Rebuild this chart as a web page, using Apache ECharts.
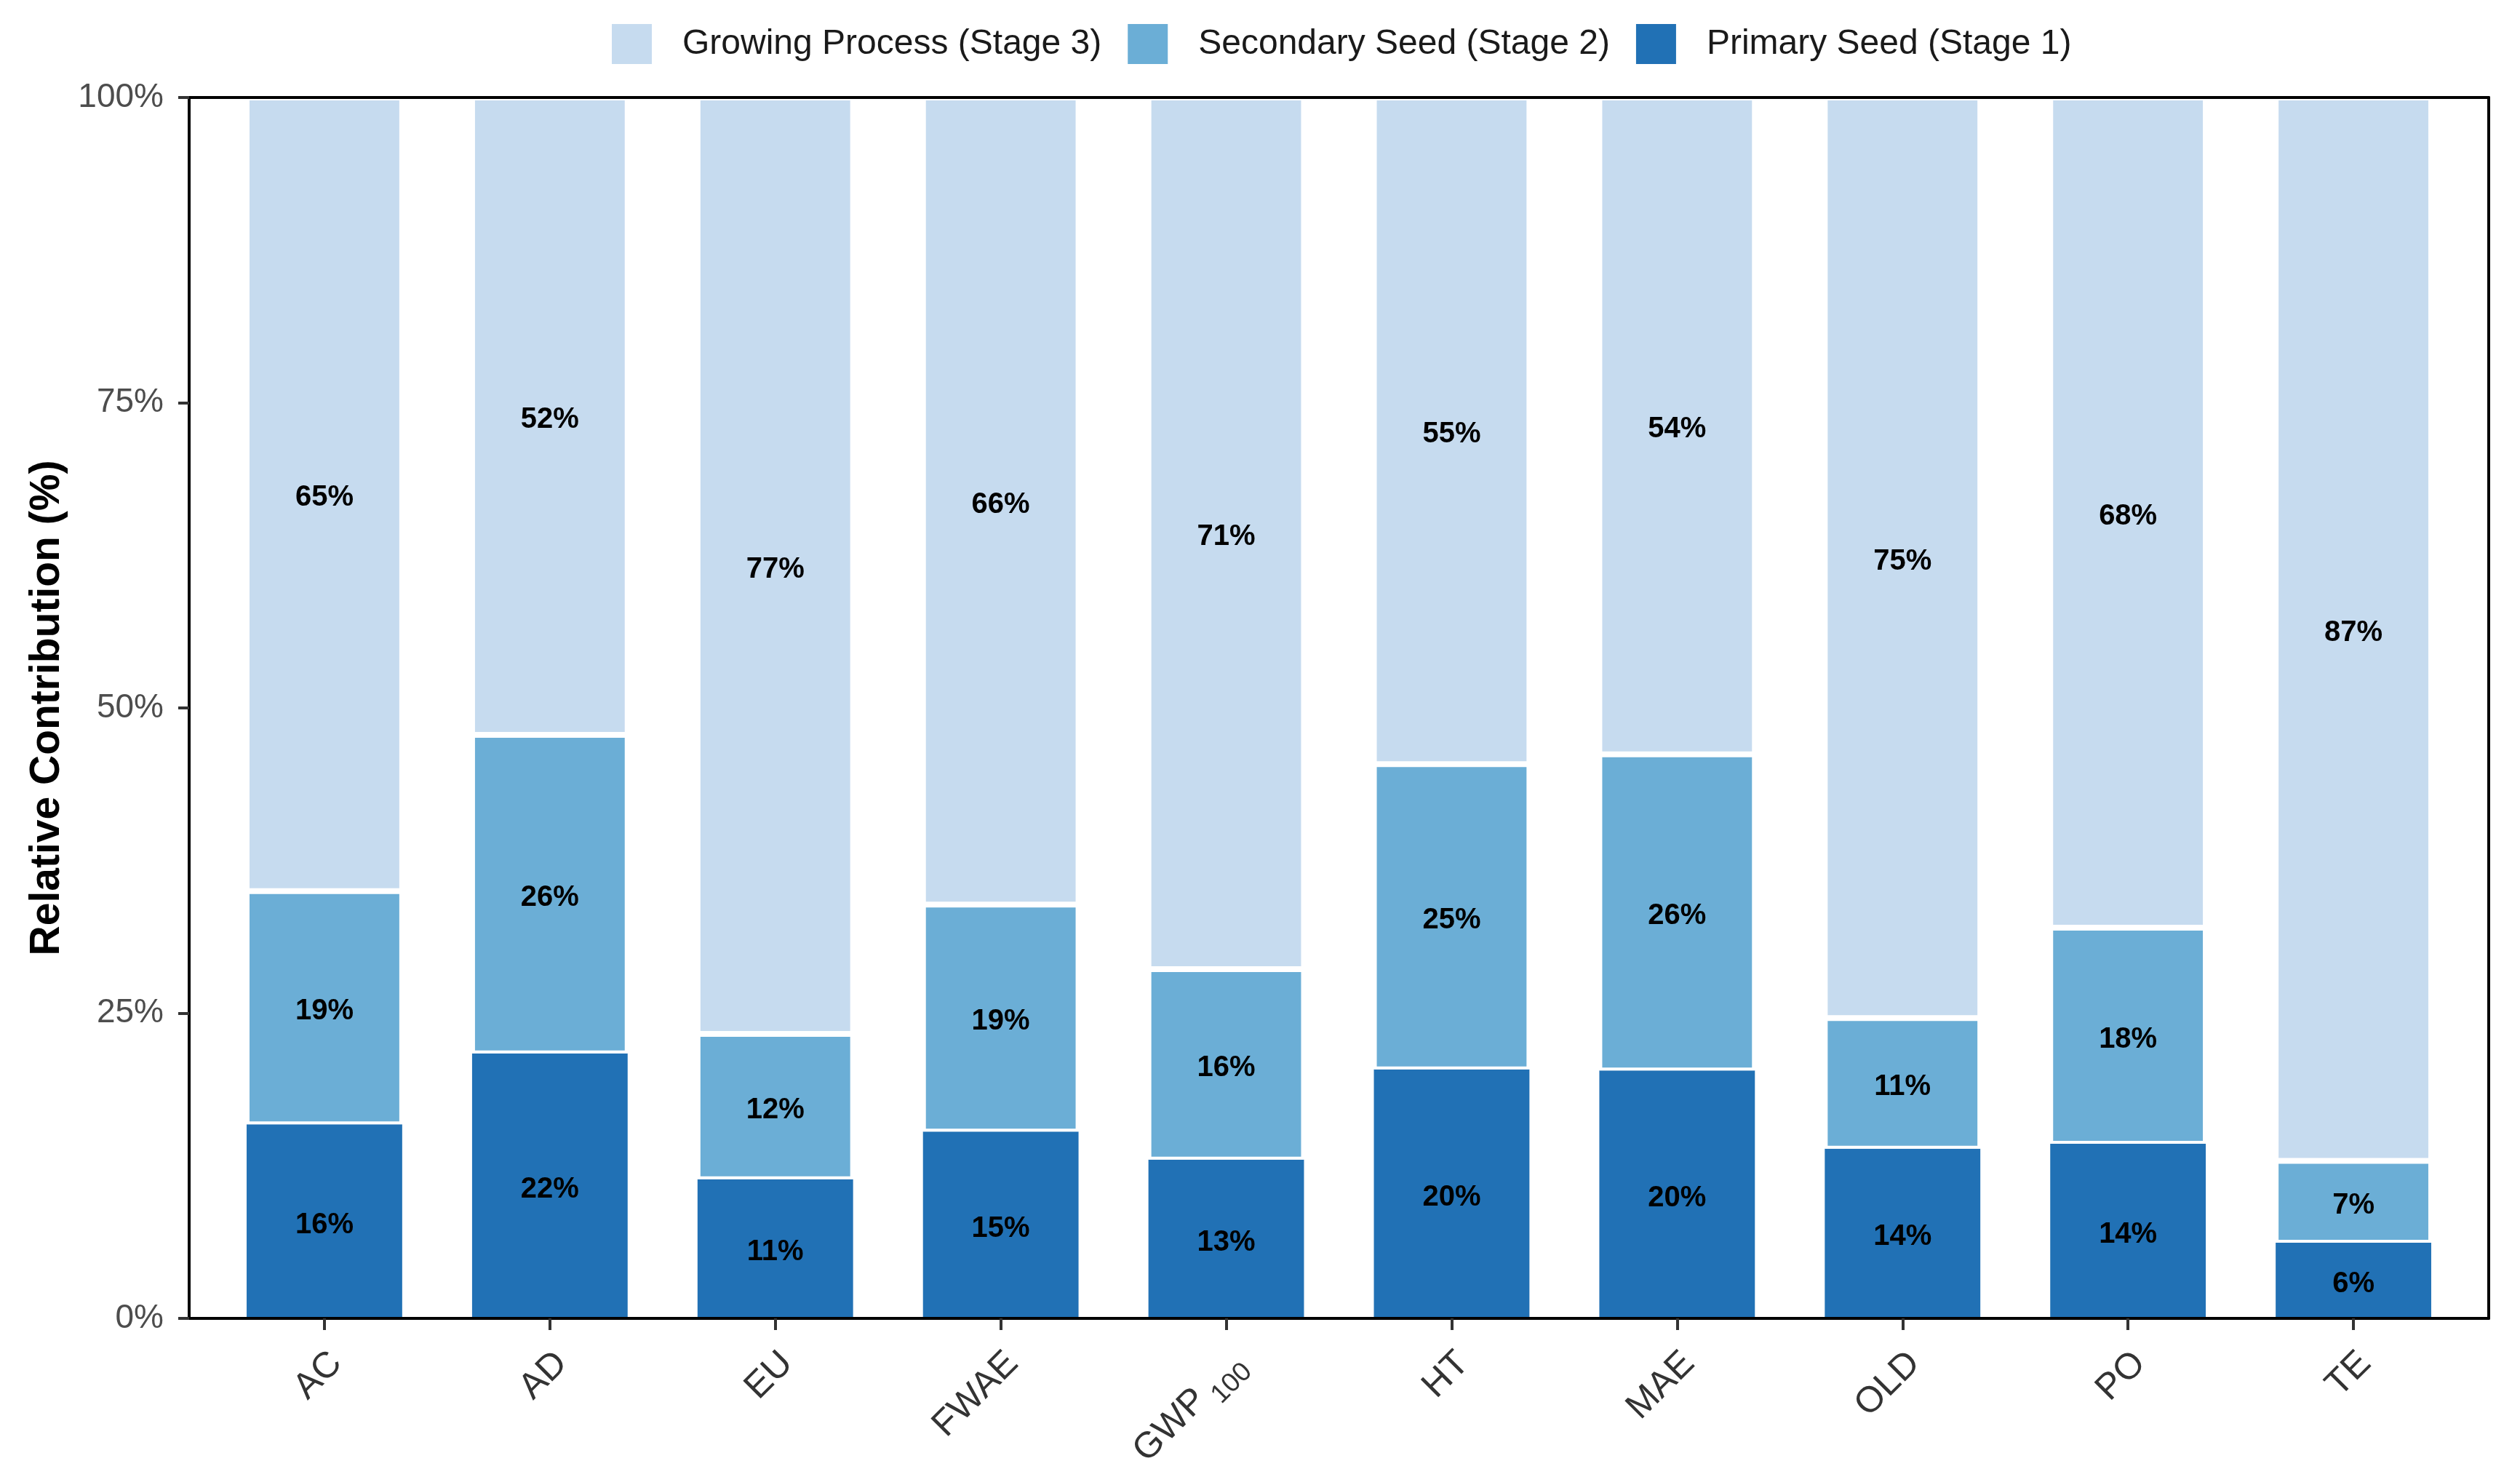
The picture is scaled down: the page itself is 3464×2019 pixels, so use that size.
<!DOCTYPE html>
<html>
<head>
<meta charset="utf-8">
<script src="https://cdn.jsdelivr.net/npm/echarts@6/dist/echarts.min.js"></script>
<style>
html,body{margin:0;padding:0;background:#fff;}
#chart{width:3464px;height:2019px;}
</style>
</head>
<body>
<div id="chart"></div>
<script>
const categories = ['AC','AD','EU','FWAE','GWP100','HT','MAE','OLD','PO','TE'];
const primarySeed = [15.9,21.7,11.4,15.3,13.0,20.4,20.3,13.9,14.3,6.2];
const secondarySeed = [19.1,26.1,11.9,18.6,15.6,25.0,25.9,10.7,17.7,6.7];
const growingProcess = [65.0,52.2,76.7,66.1,71.4,54.6,53.8,75.4,68.0,87.1];
const seriesNames = ['Primary Seed (Stage 1)','Secondary Seed (Stage 2)','Growing Process (Stage 3)'];
const legendOrder = ['Growing Process (Stage 3)','Secondary Seed (Stage 2)','Primary Seed (Stage 1)'];
const yTicks = [0,25,50,75,100];

const FONT = "'Liberation Sans', Arial, Helvetica, sans-serif";
const colors = ['#2171b5','#6baed6','#c6dbef'];

const frameL = 260, frameT = 134, frameW = 3161, frameH = 1678;
const band = frameW / 10.2;
const inset = band * 0.1;

const chart = echarts.init(document.getElementById('chart'), null, {renderer:'canvas'});

function mkSeries(name, data, color, bw, width){
  return {
    name: name, type: 'bar', stack: 'total', xAxisIndex: 2, yAxisIndex: 2,
    data: data, barWidth: width,
    itemStyle: {color: color, borderColor: '#ffffff', borderWidth: bw},
    label: {
      show: true, position: 'inside', offset: [0, 5],
      formatter: p => Math.round(p.value) + '%',
      fontFamily: FONT, fontWeight: 'bold', fontSize: 40, color: '#000'
    },
    emphasis: {disabled: true}
  };
}

const axisLineStyle = {color: '#000', width: 4};

chart.setOption({
  backgroundColor: '#ffffff',
  animation: false,
  textStyle: {fontFamily: FONT},
  legend: {
    data: legendOrder,
    left: 836, top: 28,
    itemWidth: 55, itemHeight: 55, itemGap: 36,
    icon: 'rect',
    itemStyle: {borderWidth: 0},
    textStyle: {fontFamily: FONT, fontSize: 48, color: '#1a1a1a', padding: [0,0,0,37]}
  },
  grid: [
    {left: frameL, top: frameT, width: frameW, height: frameH, containLabel: false, outerBoundsMode: 'none'},
    {left: frameL + inset, top: frameT, width: frameW - 2*inset, height: frameH, containLabel: false, outerBoundsMode: 'none'}
  ],
  xAxis: [
    {gridIndex: 0, type: 'value', min: 0, max: 1, position: 'bottom', z: 10,
      axisLine: {show: true, onZero: false, lineStyle: axisLineStyle}, axisTick: {show: false},
      axisLabel: {show: false}, splitLine: {show: false}},
    {gridIndex: 0, type: 'value', min: 0, max: 1, position: 'top', z: 10,
      axisLine: {show: true, onZero: false, lineStyle: axisLineStyle}, axisTick: {show: false},
      axisLabel: {show: false}, splitLine: {show: false}},
    {gridIndex: 1, type: 'category', data: categories, position: 'bottom', z: 11,
      axisLine: {show: false, onZero: false},
      axisTick: {show: true, alignWithLabel: true, length: 16, lineStyle: {color: '#333', width: 4}},
      axisLabel: {
        rotate: 45, margin: 38, interval: 0,
        padding: [46, 0, 0, 0],
        fontFamily: FONT, fontSize: 50, color: '#333',
        formatter: v => v === 'GWP100' ? 'GWP{sub|100}' : v,
        rich: {sub: {fontFamily: FONT, fontSize: 37, color: '#333', padding: [38, 0, 0, 10]}}
      },
      splitLine: {show: false}}
  ],
  yAxis: [
    {gridIndex: 0, type: 'value', min: 0, max: 100, interval: 25, position: 'left', z: 10,
      axisLine: {show: true, onZero: false, lineStyle: axisLineStyle},
      axisTick: {show: true, length: 15, lineStyle: {color: '#333', width: 4}},
      axisLabel: {margin: 35, fontFamily: FONT, fontSize: 46, color: '#4d4d4d',
        formatter: v => yTicks.indexOf(v) >= 0 ? v + '%' : ''},
      splitLine: {show: false},
      name: 'Relative Contribution (%)', nameLocation: 'middle', nameGap: 166,
      nameTextStyle: {fontFamily: FONT, fontSize: 57, fontWeight: 'bold', color: '#000'}},
    {gridIndex: 0, type: 'value', min: 0, max: 100, position: 'right', z: 10,
      axisLine: {show: true, onZero: false, lineStyle: axisLineStyle}, axisTick: {show: false},
      axisLabel: {show: false}, splitLine: {show: false}},
    {gridIndex: 1, type: 'value', min: 0, max: 100, interval: 25, show: false, splitLine: {show: false}}
  ],
  series: [
    mkSeries(seriesNames[0], primarySeed, colors[0], 0, '69%'),
    mkSeries(seriesNames[1], secondarySeed, colors[1], 4, '69%'),
    mkSeries(seriesNames[2], growingProcess, colors[2], 4, '69%')
  ]
});
</script>
</body>
</html>
